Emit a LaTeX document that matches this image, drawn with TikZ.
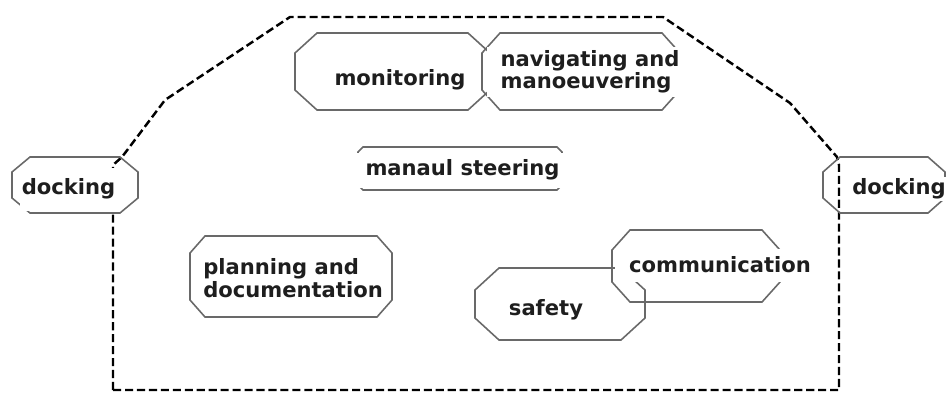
\documentclass[tikz,border=0pt]{standalone}
\usepackage{fontspec}
\setmainfont{DejaVu Sans}
\usepackage{tikz}
\usetikzlibrary{calc,positioning}
\definecolor{boxgray}{RGB}{105,105,105}
\definecolor{inkgray}{RGB}{30,30,30}
\tikzset
{
	octbox/.style = {rectangle, inner sep=0pt, outer sep=0pt},
	octline/.style = {draw=boxgray, line width=0.9pt},
	boxlabel/.style = {fill=white, text=inkgray, align=left, inner sep=1pt, font=\bfseries\fontsize{12}{11.3}\selectfont},
	fence/.style = {draw=black, line width=1.4pt, dash pattern=on 4.6pt off 2.2pt}
}
% octagonal frame round a box node: #1 node, #2 x cut, #3 y cut
\newcommand\octframe[3]{%
  \draw[octline] ($(#1.north west)+(#2,0)$) -- ($(#1.north east)+(-#2,0)$) -- ($(#1.north east)+(0,-#3)$)
    -- ($(#1.south east)+(0,#3)$) -- ($(#1.south east)+(-#2,0)$) -- ($(#1.south west)+(#2,0)$)
    -- ($(#1.south west)+(0,#3)$) -- ($(#1.north west)+(0,-#3)$) -- cycle;}

\begin{document}
\begin{tikzpicture}
\useasboundingbox (0,0) rectangle (18.94,-7.84);
% dashed hull around the working area
\draw[fence] (2.26,-7.80) -- (2.26,-3.30) -- (2.44,-3.14) -- (3.30,-2.00) -- (5.80,-0.34)
  -- (13.26,-0.34) -- (15.80,-2.06) -- (16.74,-3.14) -- (16.78,-3.30) -- (16.78,-7.80) -- cycle;

% task boxes
\node[octbox, minimum width=3.90cm, minimum height=1.54cm] (mon) at (7.85,-1.43) {};
\node[octbox, minimum width=3.96cm, minimum height=1.54cm] (nav) at (11.62,-1.43) {};
\node[octbox, minimum width=4.08cm, minimum height=0.86cm] (steer) at (9.20,-3.37) {};
\node[octbox, minimum width=2.52cm, minimum height=1.12cm] (dockl) at (1.50,-3.70) {};
\node[octbox, minimum width=2.44cm, minimum height=1.12cm] (dockr) at (17.68,-3.70) {};
\node[octbox, minimum width=4.04cm, minimum height=1.62cm] (plan) at (5.82,-5.53) {};
\node[octbox, minimum width=3.36cm, minimum height=1.44cm] (comm) at (13.92,-5.32) {};
\node[octbox, minimum width=3.40cm, minimum height=1.44cm] (safe) at (11.20,-6.08) {};
\octframe{mon}{0.44}{0.40}
\octframe{nav}{0.36}{0.40}
\octframe{steer}{0.10}{0.10}
\octframe{dockl}{0.36}{0.30}
\octframe{dockr}{0.34}{0.30}
\octframe{plan}{0.30}{0.34}
\octframe{comm}{0.36}{0.40}
\octframe{safe}{0.48}{0.44}

% labels, their white ground hides parts of the frames
\node[boxlabel] (mon-txt) at (8.00,-1.60) {monitoring};
\node[boxlabel, inner xsep=0.28cm, inner ysep=2pt] (nav-txt) at (11.80,-1.44) {navigating and\\manoeuvering};
\node[boxlabel, minimum width=4.22cm, minimum height=0.70cm] (steer-txt) at (9.25,-3.40) {manaul steering};
\node[boxlabel, minimum height=0.86cm] (dockl-txt) at (1.37,-3.78) {docking};
\node[boxlabel] (dockr-txt) at (17.98,-3.78) {docking};
\node[boxlabel] (plan-txt) at (5.86,-5.56) {planning and\\documentation};
\node[boxlabel, minimum width=4.20cm, minimum height=0.66cm] (comm-txt) at (14.40,-5.30) {communication};
\node[boxlabel] (safe-txt) at (10.92,-6.20) {safety};
\end{tikzpicture}
\end{document}
